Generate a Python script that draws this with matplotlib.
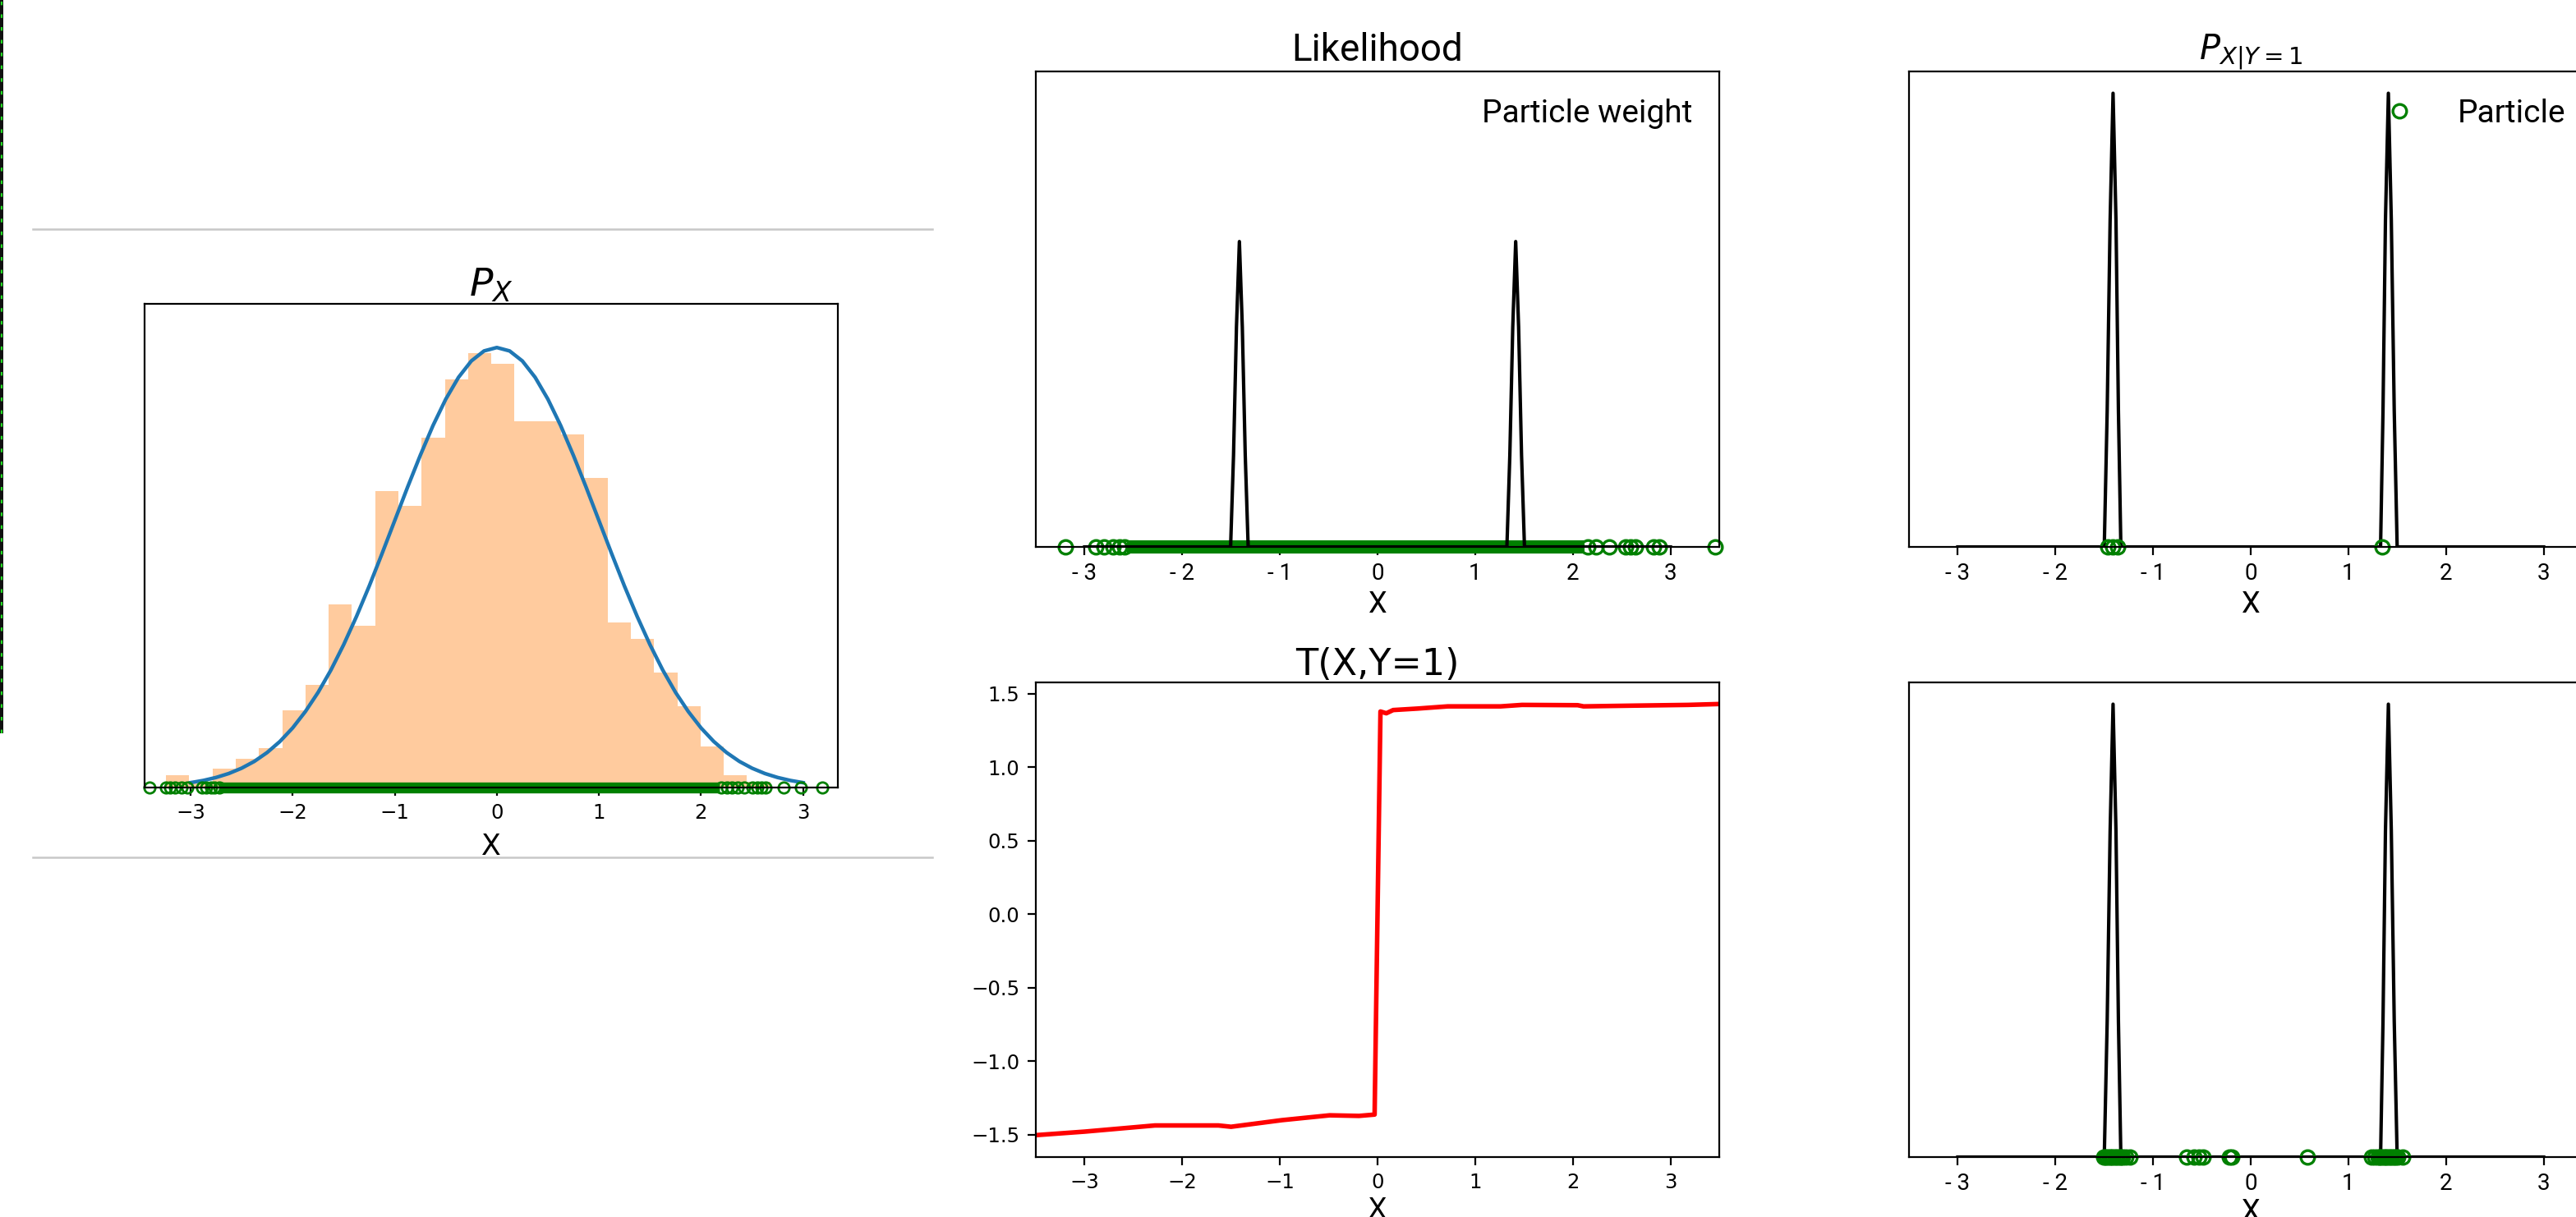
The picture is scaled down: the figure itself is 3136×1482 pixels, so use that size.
import matplotlib
matplotlib.use("Agg")
import matplotlib.pyplot as plt
from matplotlib.lines import Line2D
from matplotlib.patches import Rectangle

# ---------------- data ----------------
# P_X histogram (density) of prior particles
hist_left_edge = -3.24
hist_bin_width = 0.2276
hist_heights = [0.011, 0.004, 0.017, 0.026, 0.036, 0.070, 0.093, 0.166, 0.147,
                0.269, 0.255, 0.317, 0.370, 0.394, 0.384, 0.332, 0.332, 0.320,
                0.281, 0.150, 0.135, 0.104, 0.074, 0.037, 0.011, 0.005]

# prior density curve
pdf_x = [-3.0, -2.875, -2.75, -2.625, -2.5, -2.375, -2.25, -2.125, -2.0, -1.875,
         -1.75, -1.625, -1.5, -1.375, -1.25, -1.125, -1.0, -0.875, -0.75, -0.625,
         -0.5, -0.375, -0.25, -0.125, 0.0, 0.125, 0.25, 0.375, 0.5, 0.625, 0.75,
         0.875, 1.0, 1.125, 1.25, 1.375, 1.5, 1.625, 1.75, 1.875, 2.0, 2.125,
         2.25, 2.375, 2.5, 2.625, 2.75, 2.875, 3.0]
pdf_y = [0.0044, 0.0064, 0.0091, 0.0127, 0.0175, 0.0237, 0.0317, 0.0417, 0.0540,
         0.0689, 0.0863, 0.1065, 0.1295, 0.1550, 0.1826, 0.2119, 0.2420, 0.2721,
         0.3011, 0.3282, 0.3521, 0.3719, 0.3867, 0.3958, 0.3989, 0.3958, 0.3867,
         0.3719, 0.3521, 0.3282, 0.3011, 0.2721, 0.2420, 0.2119, 0.1826, 0.1550,
         0.1295, 0.1065, 0.0863, 0.0689, 0.0540, 0.0417, 0.0317, 0.0237, 0.0175,
         0.0127, 0.0091, 0.0064, 0.0044]

# prior particles: isolated tail particles + dense band (overlapping circles)
prior_tail_left = [-3.40, -3.24, -3.20, -3.15, -3.09, -3.03, -2.89, -2.85, -2.80, -2.77, -2.72]
prior_band = [-2.72, 2.18]
prior_tail_right = [2.20, 2.25, 2.30, 2.36, 2.42, 2.50, 2.55, 2.59, 2.63, 2.81, 2.98, 3.19]

# likelihood panel particles
lik_tail_left = [-3.20, -2.89, -2.80, -2.71, -2.64, -2.59]
lik_band = [-2.57, 2.12]
lik_tail_right = [2.15, 2.24, 2.37, 2.54, 2.59, 2.64, 2.83, 2.89, 3.46]

# likelihood curve
lik_x = [-3.0, -1.505, -1.475, -1.445, -1.415, -1.385, -1.355, -1.325,
         1.325, 1.355, 1.385, 1.415, 1.445, 1.475, 1.505, 3.0]
lik_y = [0, 0, 0.30, 0.72, 1.0, 0.72, 0.30, 0,
         0, 0.30, 0.72, 1.0, 0.72, 0.30, 0, 0]

# posterior curve P_{X|Y=1}
post_x = [-3.0, -1.500, -1.470, -1.440, -1.410, -1.380, -1.355, -1.330,
          1.330, 1.355, 1.380, 1.410, 1.440, 1.470, 1.500, 3.0]
post_y = [0, 0, 0.30, 0.72, 1.0, 0.72, 0.30, 0,
          0, 0.30, 0.72, 1.0, 0.72, 0.30, 0, 0]

# posterior particles (top right) and transported particles (bottom right)
post_particles = [-1.46, -1.41, -1.36, 1.35]
trans_particles = [-1.51, -1.49, -1.47, -1.45, -1.43, -1.41, -1.39, -1.37, -1.35,
                   -1.33, -1.31, -1.28, -1.24,
                   -0.656, -0.58, -0.53, -0.49, -0.217, -0.197, 0.58,
                   1.24, 1.27, 1.30, 1.32, 1.34, 1.36, 1.38, 1.40, 1.42, 1.44,
                   1.46, 1.48, 1.51, 1.56]

# transport map T(X, Y=1)
t_x = [-3.5, -3.0, -2.28, -1.63, -1.50, -0.98, -0.49, -0.19, -0.03,
       0.03, 0.09, 0.16, 0.41, 0.72, 1.26, 1.48, 2.05, 2.11, 2.62, 3.18, 3.5]
t_y = [-1.502, -1.478, -1.436, -1.436, -1.445, -1.400, -1.367, -1.371, -1.362,
       1.380, 1.368, 1.390, 1.400, 1.415, 1.415, 1.425, 1.423, 1.415, 1.420, 1.425, 1.431]

xticks = [-3, -2, -1, 0, 1, 2, 3]
xtick_labels_hyphen = ["- 3", "- 2", "- 1", "0", "1", "2", "3"]

# ---------------- figure ----------------
W, H = 3136, 1482
fig = plt.figure(figsize=(W / 200, H / 200), dpi=200)
fig.patch.set_facecolor("white")


def rect(l, t, r, b):
    return [l / W, 1 - b / H, (r - l) / W, (b - t) / H]


GREEN = "green"
ROBOTO = "Roboto"

# decorations: grey separator lines and dark strip at far left
for yy in (279, 1044):
    fig.add_artist(Line2D([40 / W, 1135 / W], [1 - yy / H, 1 - yy / H],
                          color="#c8c8c8", lw=0.9))
fig.add_artist(Rectangle((0, 1 - 893 / H), 4 / W, 893 / H,
                         transform=fig.transFigure, color="#101010", lw=0))
fig.add_artist(Line2D([2 / W, 2 / W], [1 - 893 / H, 1.0], color="#22dd22",
                      lw=0.8, ls=(0, (2, 5))))

# ---- P_X ----
ax0 = fig.add_axes(rect(176, 370, 1020, 959))
edges = [hist_left_edge + i * hist_bin_width for i in range(len(hist_heights))]
ax0.bar(edges, hist_heights, width=hist_bin_width, align="edge",
        color="tab:orange", alpha=0.4, lw=0)
ax0.plot(pdf_x, pdf_y, color="tab:blue", lw=1.6)
ax0.plot(prior_band, [0, 0], color=GREEN, lw=4.8, solid_capstyle="butt", clip_on=False)
ax0.plot(prior_tail_left + prior_tail_right,
         [0] * (len(prior_tail_left) + len(prior_tail_right)),
         "o", mfc="none", mec=GREEN, ms=4.8, mew=1.0, clip_on=False)
ax0.set_xlim(-3.45, 3.34)
ax0.set_ylim(0, 0.4385)
ax0.set_yticks([])
ax0.set_xticks(xticks)
ax0.tick_params(axis="x", labelsize=8.8)
ax0.set_xlabel("X", fontsize=12.5, labelpad=4)
ax0.set_title(r"$P_X$", fontsize=17, pad=2)

# ---- Likelihood ----
ax1 = fig.add_axes(rect(1261, 87, 2093, 666))
ax1.plot(lik_band, [0, 0], color=GREEN, lw=5.8, solid_capstyle="butt", clip_on=False)
ax1.plot(lik_tail_left + lik_tail_right,
         [0] * (len(lik_tail_left) + len(lik_tail_right)),
         "o", mfc="none", mec=GREEN, ms=6.0, mew=1.2, clip_on=False)
ax1.plot(lik_x, lik_y, color="black", lw=1.5)
ax1.plot([], [], "o", mfc="none", mec="none", label="Particle weight")
ax1.legend(loc="upper right", frameon=False, prop={"family": ROBOTO, "size": 14},
           borderaxespad=0.45)
ax1.set_xlim(-3.5, 3.5)
ax1.set_ylim(0, 1.557)
ax1.set_yticks([])
ax1.set_xticks(xticks)
ax1.set_xticklabels(xtick_labels_hyphen)
ax1.tick_params(axis="x", labelsize=10, labelfontfamily=ROBOTO)
ax1.set_xlabel("X", fontsize=13, family=ROBOTO, labelpad=2)
ax1.set_title("Likelihood", fontsize=16.5, family=ROBOTO, pad=4.5)

# ---- T(X,Y=1) ----
ax2 = fig.add_axes(rect(1261, 831, 2093, 1409))
ax2.plot(t_x, t_y, color="red", lw=2.0)
ax2.set_xlim(-3.5, 3.5)
ax2.set_ylim(-1.651, 1.578)
ax2.set_xticks(xticks)
ax2.set_yticks([-1.5, -1.0, -0.5, 0.0, 0.5, 1.0, 1.5])
ax2.tick_params(labelsize=8.8)
ax2.set_xlabel("X", fontsize=12.5, labelpad=1.5)
ax2.set_title("T(X,Y=1)", fontsize=16, pad=3)

# ---- P_{X|Y=1} ----
ax3 = fig.add_axes(rect(2324, 87, 3156, 666))
ax3.plot(post_x, post_y, color="black", lw=1.5)
ax3.plot(post_particles, [0] * len(post_particles), "o", mfc="none", mec=GREEN,
         ms=6.0, mew=1.2, clip_on=False, label="Particle")
ax3.legend(loc="upper right", frameon=False, numpoints=1, borderaxespad=0.45,
           prop={"family": ROBOTO, "size": 14})
ax3.set_xlim(-3.5, 3.5)
ax3.set_ylim(0, 1.048)
ax3.set_yticks([])
ax3.set_xticks(xticks)
ax3.set_xticklabels(xtick_labels_hyphen)
ax3.tick_params(axis="x", labelsize=10, labelfontfamily=ROBOTO)
ax3.set_xlabel("X", fontsize=13, family=ROBOTO, labelpad=2)
ax3.set_title(r"$P_{X|Y=1}$", fontsize=15, pad=2)

# ---- transported particles ----
ax4 = fig.add_axes(rect(2324, 831, 3156, 1409))
ax4.plot(post_x, post_y, color="black", lw=1.5)
ax4.plot(trans_particles, [0] * len(trans_particles), "o", mfc="none", mec=GREEN,
         ms=6.0, mew=1.2, clip_on=False)
ax4.set_xlim(-3.5, 3.5)
ax4.set_ylim(0, 1.048)
ax4.set_yticks([])
ax4.set_xticks(xticks)
ax4.set_xticklabels(xtick_labels_hyphen)
ax4.tick_params(axis="x", labelsize=10, labelfontfamily=ROBOTO)
ax4.set_xlabel("X", fontsize=13, family=ROBOTO, labelpad=1)

fig.savefig("out.png", dpi=200, facecolor="white")
